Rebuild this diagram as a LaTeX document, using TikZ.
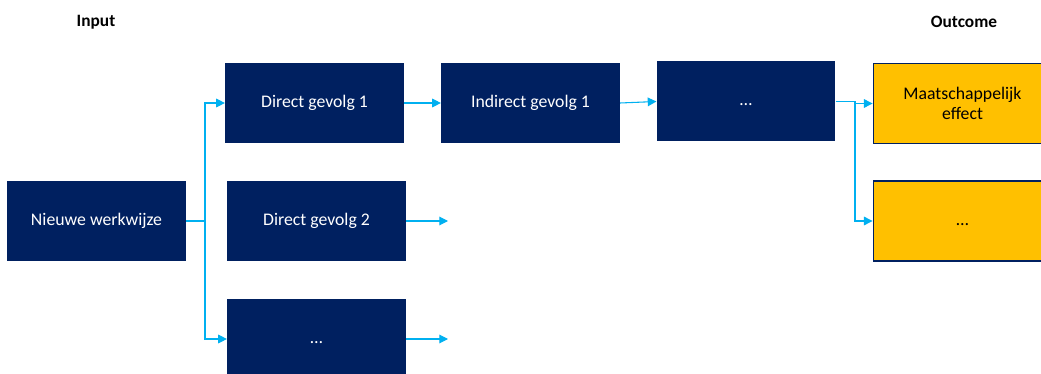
\documentclass[tikz,border=0pt]{standalone}
\usepackage{fontspec}
\setmainfont{Carlito}
\usepackage{tikz}
\usetikzlibrary{arrows.meta,positioning}
\definecolor{navy}{HTML}{002060}
\definecolor{goud}{HTML}{FFC000}
\definecolor{hemel}{HTML}{00B0F0}

\begin{document}
\begin{tikzpicture}[x=0.75pt,y=-0.75pt,
  font=\fontsize{13.3}{15.5}\selectfont,
  blok/.style={fill=navy,text=white,minimum width=134pt,minimum height=60pt,
    inner sep=0pt,align=center},
  doel/.style={blok,fill=goud,draw=navy,line width=0.9pt,text=black},
  kop/.style={font=\fontsize{13}{15}\selectfont\bfseries},
  pijl/.style={->,>={Triangle[length=6.5pt,width=6.5pt]},draw=hemel,line width=0.8pt},
]
  \useasboundingbox (0,0) rectangle (1041,374);
  \clip (0,0) rectangle (1041,374);

  \node[kop] (input) at (96,22) {Input};
  \node[kop] (outcome) at (964,22) {Outcome};

  \node[blok] (nieuw) at (96.5,221) {Nieuwe werkwijze};
  \node[blok] (dg1) at (314.5,103) {Direct gevolg 1};
  \node[blok] (dg2) at (316.5,221) {Direct gevolg 2};
  \node[blok] (dots1) at (316.5,339) {\vphantom{Dg}\dots};
  \node[blok] (ind1) at (530.5,103) {Indirect gevolg 1};
  \node[blok] (dots2) at (746,101.5) {\vphantom{Dg}\dots};
  \node[doel] (effect) at (962.5,103.5) {Maatschappelijk\\effect};
  \node[doel] (meer) at (962.5,221) {\vphantom{Dg}\dots};

  \coordinate (tak1) at (205,221);
  \coordinate (tak2) at (855,101.5);
  \coordinate (uit2) at (448,221);
  \coordinate (uit3) at (448,339);

  \draw[pijl] (nieuw.east) -- (tak1) |- (dg1.west);
  \draw[pijl] (tak1) |- (dots1.west);
  \draw[pijl] (dg1) -- (ind1);
  \draw[pijl] (dg2.east) -- (uit2);
  \draw[pijl] (dots1.east) -- (uit3);
  \draw[pijl] (ind1.east) -- (dots2.west);
  \draw[pijl] (dots2.east) -- (tak2) |- (effect.west);
  \draw[pijl] (tak2) |- (meer.west);
\end{tikzpicture}
\end{document}
